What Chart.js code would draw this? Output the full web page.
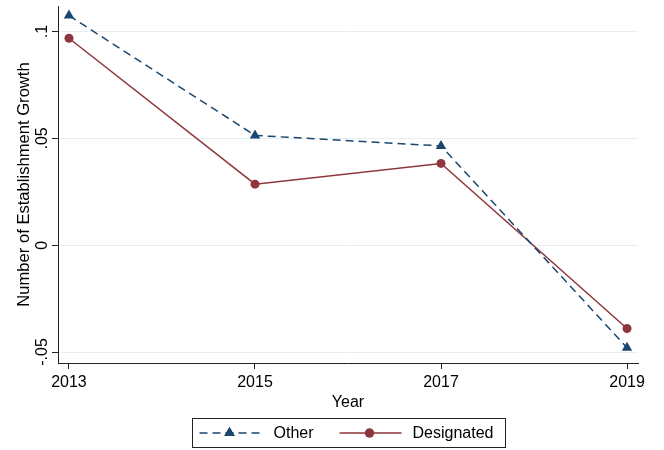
<!DOCTYPE html>
<html>
<head>
<meta charset="utf-8">
<script src="https://cdn.jsdelivr.net/npm/chart.js@4"></script>
<style>
  html, body { margin: 0; padding: 0; background: #fff; }
  #wrap { width: 664px; height: 450px; }
</style>
</head>
<body>
<div id="wrap"><canvas id="c" width="664" height="450"></canvas></div>
<script>
const years = [2013, 2015, 2017, 2019];
const otherValues = [0.1075, 0.0514, 0.0465, -0.0480];
const designatedValues = [0.0969, 0.0286, 0.0383, -0.0390];
const yTickValues = [-0.05, 0, 0.05, 0.1];
const yTickLabels = ['-.05', '0', '.05', '.1'];
const xTickValues = [2013, 2015, 2017, 2019];
const seriesNames = ['Other', 'Designated'];

const NAVY = '#1a476f';
const MAROON = '#90353b';
const FONT = "'Liberation Sans', Arial, sans-serif";

const legendPlugin = {
  id: 'boxLegend',
  afterDraw(chart) {
    const ctx = chart.ctx;
    const ca = chart.chartArea;
    const cx = (ca.left + ca.right) / 2;
    const w = 313, h = 29;
    const left = Math.round(cx - w / 2) + 0.5;
    const top = 418.5;
    const midY = top + h / 2;
    ctx.save();
    ctx.strokeStyle = '#222';
    ctx.lineWidth = 1;
    ctx.strokeRect(left, top, w, h);
    const ds = chart.data.datasets;
    ctx.lineWidth = 1.5;
    ctx.strokeStyle = ds[0].borderColor;
    ctx.setLineDash(ds[0].borderDash);
    ctx.beginPath();
    ctx.moveTo(left + 7, midY);
    ctx.lineTo(left + 69, midY);
    ctx.stroke();
    ctx.setLineDash([]);
    Chart.helpers.drawPoint(ctx, {pointStyle: 'triangle', radius: ds[0].pointRadius, borderWidth: 0, rotation: 0}, left + 37, midY);
    ctx.fillStyle = ds[0].pointBackgroundColor;
    ctx.fill();
    ctx.strokeStyle = ds[1].borderColor;
    ctx.beginPath();
    ctx.moveTo(left + 147, midY);
    ctx.lineTo(left + 209, midY);
    ctx.stroke();
    Chart.helpers.drawPoint(ctx, {pointStyle: 'circle', radius: ds[1].pointRadius, borderWidth: 0, rotation: 0}, left + 177, midY);
    ctx.fillStyle = ds[1].pointBackgroundColor;
    ctx.fill();
    ctx.fillStyle = '#000';
    ctx.font = '16px ' + FONT;
    ctx.textBaseline = 'middle';
    ctx.textAlign = 'left';
    ctx.fillText(seriesNames[0], left + 81, midY + 1);
    ctx.fillText(seriesNames[1], left + 220, midY + 1);
    ctx.restore();
  }
};

new Chart(document.getElementById('c'), {
  type: 'line',
  data: {
    datasets: [
      {
        label: seriesNames[0],
        data: years.map((x, i) => ({x, y: otherValues[i]})),
        borderColor: NAVY,
        backgroundColor: NAVY,
        pointBackgroundColor: NAVY,
        pointBorderColor: NAVY,
        pointBorderWidth: 0,
        pointStyle: 'triangle',
        pointRadius: 6,
        borderWidth: 1.5,
        borderDash: [8, 5],
        tension: 0,
        fill: false
      },
      {
        label: seriesNames[1],
        data: years.map((x, i) => ({x, y: designatedValues[i]})),
        borderColor: MAROON,
        backgroundColor: MAROON,
        pointBackgroundColor: MAROON,
        pointBorderColor: MAROON,
        pointBorderWidth: 0,
        pointStyle: 'circle',
        pointRadius: 4.5,
        borderWidth: 1.5,
        tension: 0,
        fill: false
      }
    ]
  },
  options: {
    responsive: false,
    animation: false,
    events: [],
    layout: { padding: { top: 6, right: 26, bottom: 38, left: 0 } },
    plugins: { legend: { display: false }, tooltip: { enabled: false } },
    scales: {
      x: {
        type: 'linear',
        min: 2012.882,
        max: 2019.118,
        afterBuildTicks(scale) { scale.ticks = xTickValues.map(v => ({value: v})); },
        afterFit(scale) { scale.height = 49; scale.paddingLeft = 0; scale.paddingRight = 0; },
        ticks: {
          color: '#000',
          font: { family: FONT, size: 16 },
          padding: 4,
          maxRotation: 0,
          autoSkip: false,
          callback: (v) => String(v)
        },
        grid: { drawOnChartArea: false, drawTicks: true, tickLength: 6, tickColor: '#222' },
        border: { display: true, color: '#222', width: 1 },
        title: { display: true, text: 'Year', color: '#000', font: { family: FONT, size: 16 }, padding: { top: 0, bottom: 0 } }
      },
      y: {
        type: 'linear',
        min: -0.05515,
        max: 0.112,
        afterBuildTicks(scale) { scale.ticks = yTickValues.map(v => ({value: v})); },
        afterFit(scale) { scale.width = 58; scale.paddingTop = 0; scale.paddingBottom = 0; },
        ticks: {
          color: '#000',
          font: { family: FONT, size: 16 },
          padding: -4,
          minRotation: 90,
          maxRotation: 90,
          crossAlign: 'center',
          autoSkip: false,
          callback: (v) => { const i = yTickValues.findIndex(t => Math.abs(t - v) < 1e-9); return i >= 0 ? yTickLabels[i] : ''; }
        },
        grid: { color: '#e6eeef', lineWidth: 1, drawTicks: true, tickLength: 6, tickColor: '#222' },
        border: { display: true, color: '#222', width: 1 },
        title: { display: true, text: 'Number of Establishment Growth', color: '#000', font: { family: FONT, size: 16.6 }, padding: { top: 14, bottom: 0 } }
      }
    }
  },
  plugins: [legendPlugin]
});
</script>
</body>
</html>
